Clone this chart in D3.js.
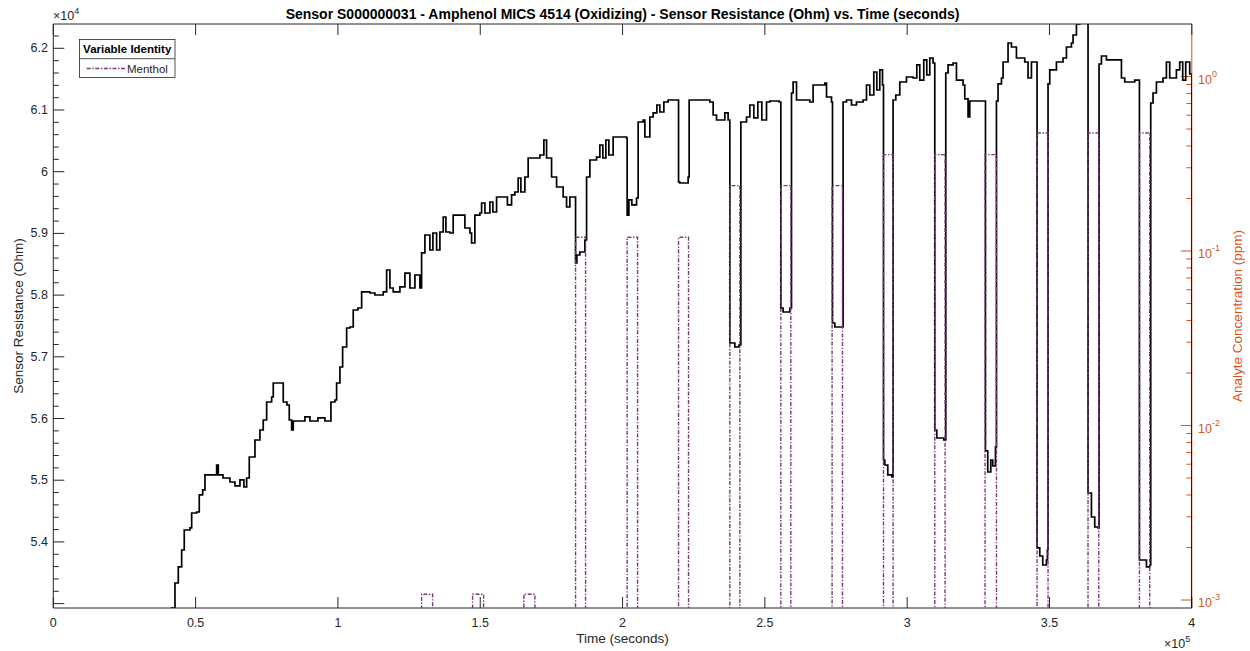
<!DOCTYPE html>
<html>
<head>
<meta charset="utf-8">
<script src="https://cdn.jsdelivr.net/npm/d3@7"></script>
<style>
  body { margin: 0; background: #fff; }
  svg { display: block; font-family: "Liberation Sans", Arial, Helvetica, sans-serif; }
</style>
</head>
<body>
<svg id="chart" width="1250" height="651"></svg>
<script>
// ---- Sensor resistance trace (time in s, resistance in Ohm) ----
const timeSec = [
  40990, 41590, 42750, 43910, 45100, 46010, 48020, 48610, 50370, 51280, 52480, 53280,
  56800, 57390, 57960, 59610, 62070, 63820, 65580, 66980, 67930, 68850, 70850, 72600,
  73760, 74960, 76710, 77280, 79980, 80790, 82090, 82900, 83740, 84300, 86650, 88410,
  90170, 92980, 95430, 97190, 97540, 98950, 99540, 100700, 101650, 103060, 104220, 105380,
  107030, 108330, 111240, 113000, 115910, 117110, 118270, 119430, 121780, 123540, 125290, 127050,
  128800, 129400, 130560, 132320, 133370, 134670, 135830, 136990, 137940, 139340, 140500, 144010,
  144610, 146370, 146960, 148120, 149880, 150480, 151640, 153390, 154450, 155740, 159260, 159540,
  161010, 162170, 163330, 164280, 165690, 166840, 169200, 170950, 172360, 173310, 175060, 176820,
  179140, 180330, 181490, 183250, 183490, 183950, 185000, 186760, 187360, 188520, 190870, 192030,
  193080, 194140, 195190, 196700, 201410, 201620, 202220, 203270, 204920, 205480, 207240, 207840,
  209590, 210750, 212050, 213100, 214510, 216020, 219530, 219670, 220130, 223040, 223400, 227150,
  230670, 231830, 233020, 235940, 237090, 237690, 239450, 240960, 241560, 243560, 244720, 246120,
  247530, 248930, 250580, 251740, 255010, 255610, 256410, 258770, 259360, 259930, 261120, 265790,
  266950, 271060, 271660, 273410, 273760, 274570, 276930, 277490, 278680, 280440, 282190, 284510,
  285710, 286870, 288270, 289330, 290380, 291330, 291680, 292140, 293190, 294590, 295050, 296000,
  297400, 299760, 302080, 303380, 304430, 305830, 306890, 307940, 309100, 309700, 310400, 312860,
  313560, 314370, 316130, 317320, 319640, 320240, 321390, 321990, 326660, 327510, 328310, 329370,
  330070, 331020, 331370, 331930, 333130, 333690, 335440, 336640, 338390, 341310, 342470, 343660,
  345420, 345630, 346580, 347630, 348930, 349280, 349490, 350090, 352440, 354760, 355960, 357710,
  358280, 359470, 360630, 363260, 363540, 364740, 365900, 367060, 367410, 368250, 370010, 373520,
  375280, 376440, 379950, 381600, 384060, 385220, 385570, 386380, 387570, 389890, 391080, 392240,
  394590, 395750, 396810, 397860, 399270, 400000
];
const resistanceOhm = [
  52654, 52929, 53334, 53594, 53869, 54193, 54226, 54469, 54485, 54761, 54842, 55085,
  55085, 55247, 55085, 55036, 54971, 54907, 55004, 54890, 55036, 55376, 55652, 55814,
  55976, 56268, 56349, 56576, 56576, 56268, 56219, 55976, 55814, 55960, 55960, 56025,
  55960, 56009, 55960, 55960, 56268, 56300, 56576, 56835, 57159, 57467, 57483, 57759,
  57791, 58051, 58034, 58002, 58051, 58407, 58115, 58051, 58132, 58358, 58115, 58326,
  58115, 58683, 58974, 58731, 59007, 58731, 59023, 59266, 59023, 59007, 59298, 59298,
  59088, 59007, 58845, 59298, 59331, 59493, 59331, 59509, 59347, 59590, 59590, 59461,
  59623, 59671, 59898, 59671, 59914, 60222, 60222, 60271, 60514, 60222, 59914, 59752,
  59590, 59428, 59590, 59590, 58521, 58650, 58699, 58893, 59914, 60190, 60238, 60433,
  60222, 60514, 60271, 60563, 60546, 59298, 59542, 59461, 59574, 60806, 60838, 60563,
  60887, 60952, 61081, 60968, 61130, 61162, 61162, 59833, 59817, 59914, 61162, 61162,
  61130, 60919, 60838, 60952, 60838, 57224, 57159, 57192, 60806, 60887, 61081, 60871,
  61130, 60838, 61130, 61146, 61130, 57791, 57726, 57791, 61276, 61454, 61162, 61130,
  61405, 61438, 61211, 61130, 57548, 57483, 57483, 61130, 61162, 61081, 61130, 61162,
  61405, 61243, 61616, 61324, 61649, 61405, 55328, 55247, 55085, 55052, 61162, 61243,
  61454, 61535, 61519, 61730, 61486, 61811, 61568, 61843, 61762, 55814, 55684, 55652,
  61600, 61730, 61762, 61486, 61405, 61179, 60887, 61146, 61146, 55474, 55133, 55328,
  55231, 55538, 61146, 61422, 61519, 61778, 62086, 62021, 61843, 61778, 61519, 61778,
  61778, 53902, 53772, 53626, 53707, 53869, 61422, 61649, 61778, 61843, 62021, 62086,
  62216, 62394, 62621, 62702, 54793, 54404, 54242, 54226, 61746, 61875, 61811, 61811,
  61519, 61454, 61486, 53707, 53594, 53626, 61114, 61276, 61454, 61519, 61778, 61519,
  61649, 61778, 61486, 61778, 61584, 40000
];

// ---- Menthol exposure pulses (start/end in s, concentration in ppm) ----
const pulseStart = [129400, 147310, 165330, 183490, 201620, 219670, 237690, 255610,
                    273620, 291680, 309700, 327360, 345630, 363540, 381600];
const pulseEnd   = [133260, 151180, 169200, 187010, 205270, 223180, 241200, 259120,
                    277270, 295050, 313310, 331370, 349490, 367310, 385220];
const pulseLevel = [0.00108, 0.00108, 0.00108, 0.12, 0.12, 0.12, 0.237, 0.237,
                    0.237, 0.357, 0.357, 0.357, 0.475, 0.475, 0.475];
const baselinePpm = 0.0001;

// ---- Axis ticks ----
const xTickValues = [0, 50000, 100000, 150000, 200000, 250000, 300000, 350000, 400000];
const xTickLabels = ["0", "0.5", "1", "1.5", "2", "2.5", "3", "3.5", "4"];
const yTickValues = [54000, 55000, 56000, 57000, 58000, 59000, 60000, 61000, 62000];
const yTickLabels = ["5.4", "5.5", "5.6", "5.7", "5.8", "5.9", "6", "6.1", "6.2"];
const rTickExponents = [-3, -2, -1, 0];

const titleText = "Sensor S000000031 - Amphenol MICS 4514 (Oxidizing) - Sensor Resistance (Ohm) vs. Time (seconds)";

// ---- Layout ----
const L = 53.3, R = 1191.8, T = 24, B = 608;
const ink = "#262626", orange = "#D95319", purple = "#7A3877";

const svg = d3.select("#chart");
svg.append("rect").attr("width", 1250).attr("height", 651).attr("fill", "#fff");

const x = d3.scaleLinear().domain([0, 400000]).range([L, R]);
const y = d3.scaleLinear().domain([52929, 62394]).range([B, T]);
const yR = d3.scaleLog().domain([0.0009, 2]).range([B, T]);

svg.append("defs").append("clipPath").attr("id", "plotClip")
  .append("rect").attr("x", L).attr("y", T).attr("width", R - L).attr("height", B - T);

const axes = svg.append("g");

// box lines
axes.append("line").attr("x1", L).attr("x2", R).attr("y1", T).attr("y2", T).attr("stroke", ink);
axes.append("line").attr("x1", L).attr("x2", R).attr("y1", B).attr("y2", B).attr("stroke", ink);
axes.append("line").attr("x1", L).attr("x2", L).attr("y1", T).attr("y2", B).attr("stroke", ink);
axes.append("line").attr("x1", R).attr("x2", R).attr("y1", T).attr("y2", B).attr("stroke", orange);

const majorLen = 11, minorLen = 5.5;

// x ticks (bottom and mirrored top)
xTickValues.forEach((v, i) => {
  const px = x(v);
  axes.append("line").attr("x1", px).attr("x2", px).attr("y1", B).attr("y2", B - majorLen).attr("stroke", ink);
  axes.append("line").attr("x1", px).attr("x2", px).attr("y1", T).attr("y2", T + majorLen).attr("stroke", ink);
  axes.append("text").attr("x", px).attr("y", 623).attr("text-anchor", "middle")
    .attr("dominant-baseline", "central").attr("font-size", 12.5).attr("fill", ink).text(xTickLabels[i]);
});

// left y ticks
d3.range(53000, 62400, 200).forEach(v => {
  const major = v % 1000 === 0;
  axes.append("line").attr("x1", L).attr("x2", L + (major ? majorLen : minorLen))
    .attr("y1", y(v)).attr("y2", y(v)).attr("stroke", ink);
});
yTickValues.forEach((v, i) => {
  axes.append("text").attr("x", 48).attr("y", y(v)).attr("text-anchor", "end")
    .attr("dominant-baseline", "central").attr("font-size", 12.5).attr("fill", ink).text(yTickLabels[i]);
});

// right log ticks
const [rLo, rHi] = yR.domain();
rTickExponents.forEach(e => {
  const v = Math.pow(10, e);
  const py = yR(v);
  axes.append("line").attr("x1", R).attr("x2", R - majorLen).attr("y1", py).attr("y2", py).attr("stroke", orange);
  const t = axes.append("text").attr("x", 1198).attr("y", py + 3).attr("dominant-baseline", "central")
    .attr("font-size", 12.5).attr("fill", orange);
  t.append("tspan").text("10");
  t.append("tspan").attr("dy", -6).attr("font-size", 9).text(String(e));
});
d3.range(-4, 1).forEach(e => {
  d3.range(2, 10).forEach(k => {
    const v = k * Math.pow(10, e);
    if (v > rLo * 1.02 && v < rHi * 0.98) {
      axes.append("line").attr("x1", R).attr("x2", R - minorLen)
        .attr("y1", yR(v)).attr("y2", yR(v)).attr("stroke", orange);
    }
  });
});

// exponent multipliers
const m4 = svg.append("text").attr("x", 53).attr("y", 20).attr("font-size", 12.5).attr("fill", ink);
m4.append("tspan").text("\u00d710");
m4.append("tspan").attr("dy", -6).attr("font-size", 9).text("4");
const m5 = svg.append("text").attr("x", 1164).attr("y", 648).attr("font-size", 12.5).attr("fill", ink);
m5.append("tspan").text("\u00d710");
m5.append("tspan").attr("dy", -6).attr("font-size", 9).text("5");

// titles and axis labels
svg.append("text").attr("x", (L + R) / 2).attr("y", 14).attr("text-anchor", "middle")
  .attr("dominant-baseline", "central").attr("font-size", 14).attr("font-weight", "bold")
  .attr("fill", "#000").text(titleText);
svg.append("text").attr("x", (L + R) / 2).attr("y", 638).attr("text-anchor", "middle")
  .attr("dominant-baseline", "central").attr("font-size", 13.5).attr("fill", ink).text("Time (seconds)");
svg.append("text").attr("transform", `translate(18,${(T + B) / 2}) rotate(-90)`).attr("text-anchor", "middle")
  .attr("dominant-baseline", "central").attr("font-size", 13.5).attr("fill", ink).text("Sensor Resistance (Ohm)");
svg.append("text").attr("transform", `translate(1237,${(T + B) / 2}) rotate(-90)`).attr("text-anchor", "middle")
  .attr("dominant-baseline", "central").attr("font-size", 13.5).attr("fill", orange).text("Analyte Concentration (ppm)");

// ---- data ----
const plot = svg.append("g").attr("clip-path", "url(#plotClip)");

// resistance is logged as held readings, so it is drawn as a staircase
const resPoints = timeSec.map((t, i) => [t, resistanceOhm[i]]);
plot.append("path")
  .attr("d", d3.line().curve(d3.curveStepAfter).x(d => x(d[0])).y(d => y(d[1]))(resPoints))
  .attr("fill", "none").attr("stroke", "#000").attr("stroke-width", 1.7).attr("stroke-linejoin", "miter");

const concPoints = [[0, baselinePpm]];
pulseStart.forEach((s, i) => {
  concPoints.push([s, baselinePpm], [s, pulseLevel[i]], [pulseEnd[i], pulseLevel[i]], [pulseEnd[i], baselinePpm]);
});
concPoints.push([400000, baselinePpm]);
const dashPattern = "4,1.6,1.4,1.6";
plot.append("path")
  .attr("d", d3.line().x(d => x(d[0])).y(d => yR(d[1]))(concPoints))
  .attr("fill", "none").attr("stroke", purple).attr("stroke-width", 1.4)
  .attr("stroke-dasharray", dashPattern);

// ---- legend ----
const lg = svg.append("g");
lg.append("rect").attr("x", 79.5).attr("y", 39.5).attr("width", 95.5).attr("height", 38)
  .attr("fill", "#fff").attr("stroke", ink).attr("stroke-width", 0.8);
lg.append("line").attr("x1", 79.5).attr("x2", 175).attr("y1", 58.7).attr("y2", 58.7)
  .attr("stroke", ink).attr("stroke-width", 0.8);
lg.append("text").attr("x", 127.2).attr("y", 49.3).attr("text-anchor", "middle")
  .attr("dominant-baseline", "central").attr("font-size", 11.5).attr("font-weight", "bold")
  .attr("fill", "#000").text("Variable Identity");
lg.append("line").attr("x1", 86.7).attr("x2", 125).attr("y1", 68.5).attr("y2", 68.5)
  .attr("stroke", purple).attr("stroke-width", 1.4).attr("stroke-dasharray", dashPattern);
lg.append("text").attr("x", 127).attr("y", 68.5).attr("dominant-baseline", "central")
  .attr("font-size", 11.5).attr("fill", ink).text("Menthol");
</script>
</body>
</html>
